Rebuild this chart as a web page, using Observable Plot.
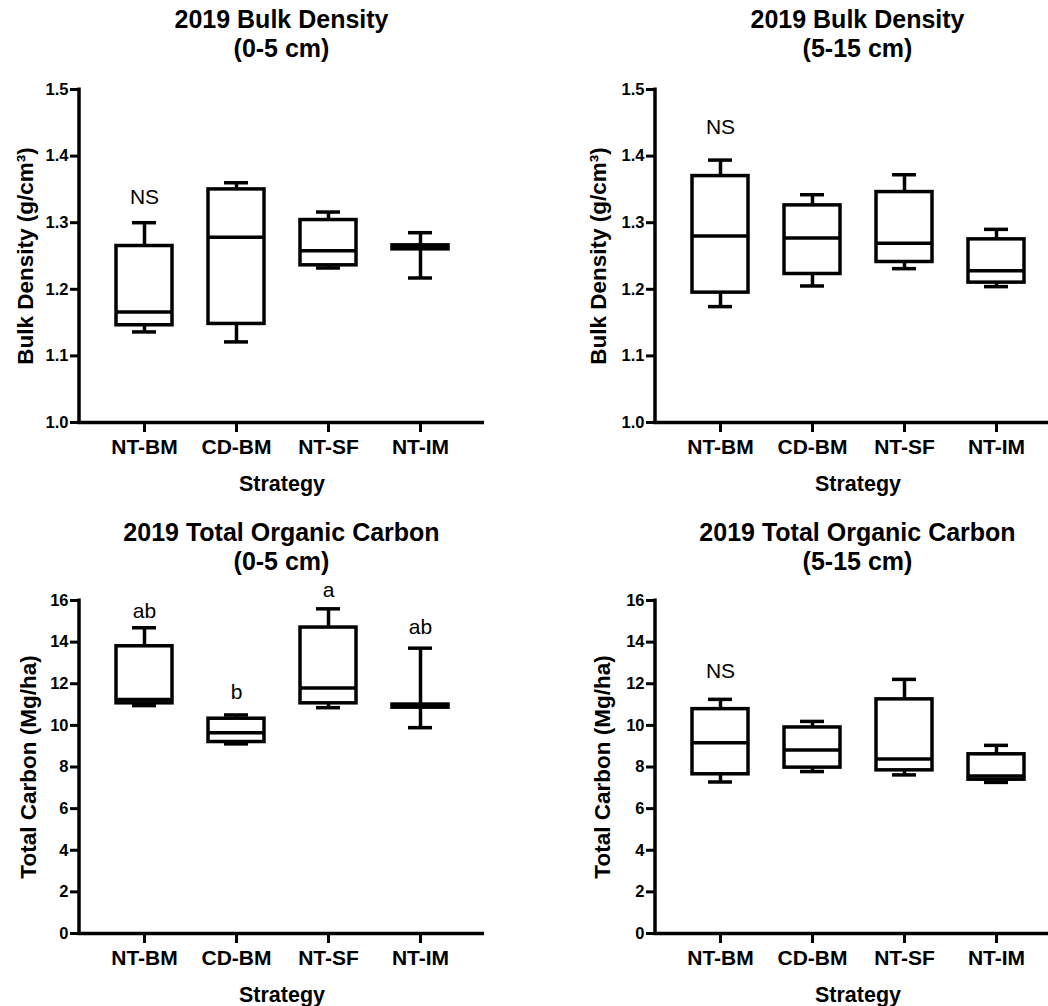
<!DOCTYPE html>
<html>
<head>
<meta charset="utf-8">
<script src="https://cdn.jsdelivr.net/npm/d3@7"></script>
<script src="https://cdn.jsdelivr.net/npm/@observablehq/plot@0.6"></script>
<style>
  html, body { margin: 0; padding: 0; background: #fff; overflow: hidden; }
  #page { position: relative; width: 1048px; height: 1006px; overflow: hidden; background: #fff; }
  .panel { position: absolute; width: 524px; height: 500px; }
  .title { position: absolute; left: 79px; width: 405px; text-align: center;
           font: bold 25px/29px "Liberation Sans", Arial, sans-serif; color: #000; white-space: nowrap; }
  .panel svg { display: block; }
</style>
</head>
<body>
<div id="page"></div>
<script>
// ---- data (five-number summaries: min, Q1, median, Q3, max) ----
const strategies = ["NT-BM", "CD-BM", "NT-SF", "NT-IM"];

const bulk0to5 = [
  [1.136, 1.146, 1.166, 1.265, 1.300],
  [1.121, 1.148, 1.278, 1.350, 1.360],
  [1.232, 1.236, 1.258, 1.304, 1.316],
  [1.217, 1.260, 1.263, 1.266, 1.285]
];
const bulk5to15 = [
  [1.174, 1.195, 1.280, 1.370, 1.394],
  [1.205, 1.223, 1.277, 1.326, 1.342],
  [1.231, 1.241, 1.269, 1.346, 1.372],
  [1.204, 1.210, 1.228, 1.275, 1.290]
];
const carbon0to5 = [
  [10.95, 11.06, 11.24, 13.80, 14.69],
  [9.11, 9.20, 9.65, 10.32, 10.50],
  [10.85, 11.06, 11.80, 14.70, 15.60],
  [9.89, 10.85, 10.93, 11.00, 13.71]
];
const carbon5to15 = [
  [7.28, 7.65, 9.17, 10.78, 11.25],
  [7.78, 7.97, 8.82, 9.90, 10.19],
  [7.62, 7.84, 8.38, 11.25, 12.21],
  [7.26, 7.39, 7.57, 8.61, 9.04]
];

// significance letters and the value at which each is written
const bulk0to5Letters = ["NS", "", "", ""];
const bulk0to5LetterY = [1.3385, null, null, null];
const bulk5to15Letters = ["NS", "", "", ""];
const bulk5to15LetterY = [1.4428, null, null, null];
const carbon0to5Letters = ["ab", "b", "a", "ab"];
const carbon0to5LetterY = [15.47, 11.60, 16.50, 14.69];
const carbon5to15Letters = ["NS", "", "", ""];
const carbon5to15LetterY = [12.60, null, null, null];

const bulkTicks = [1.0, 1.1, 1.2, 1.3, 1.4, 1.5];
const carbonTicks = [0, 2, 4, 6, 8, 10, 12, 14, 16];
const bulkDomain = [1.0, 1.5];
const carbonDomain = [0, 16];

// ---- drawing ----
const FONT = '"Liberation Sans", Arial, Helvetica, sans-serif';
const SW = 3.5;

function yAxisLine(domain) {
  return (index, scales, values, dimensions) => {
    const ns = "http://www.w3.org/2000/svg";
    const line = document.createElementNS(ns, "line");
    const x = dimensions.marginLeft;
    line.setAttribute("x1", x);
    line.setAttribute("x2", x);
    line.setAttribute("y1", scales.y(domain[1]) - 1.5);
    line.setAttribute("y2", scales.y(domain[0]) + SW / 2);
    line.setAttribute("stroke", "black");
    line.setAttribute("stroke-width", SW);
    return line;
  };
}

function makePanel(cfg) {
  const data = strategies.map((s, i) => ({
    strategy: s,
    min: cfg.summary[i][0], q1: cfg.summary[i][1], median: cfg.summary[i][2],
    q3: cfg.summary[i][3], max: cfg.summary[i][4]
  }));
  const ann = strategies
    .map((s, i) => ({strategy: s, text: cfg.letters[i], y: cfg.letterY[i]}))
    .filter(d => d.text);
  return Plot.plot({
    width: 524, height: 500,
    marginLeft: 79, marginRight: 40, marginTop: 89, marginBottom: 78,
    style: {fontFamily: FONT, fontWeight: "bold", color: "black", background: "white", overflow: "visible"},
    x: {type: "band", domain: strategies, paddingInner: 0.396, paddingOuter: 0.3825},
    y: {domain: cfg.domain},
    marks: [
      Plot.axisY({ticks: cfg.ticks, tickFormat: cfg.fmt, tickSize: 9, tickPadding: 2,
                  fontSize: 16.5, fontWeight: "bold", strokeWidth: 3, label: null}),
      Plot.axisX({tickSize: 10, tickPadding: 7, fontSize: 21, fontWeight: "bold",
                  strokeWidth: 3, label: null}),
      Plot.ruleY([cfg.domain[0]], {strokeWidth: SW, insetLeft: -SW / 2}),
      yAxisLine(cfg.domain),
      Plot.ruleX(data, {x: "strategy", y1: "q3", y2: "max", strokeWidth: SW}),
      Plot.ruleX(data, {x: "strategy", y1: "min", y2: "q1", strokeWidth: SW}),
      Plot.barY(data, {x: "strategy", y1: "q1", y2: "q3", fill: "white", stroke: "black", strokeWidth: SW}),
      Plot.tickY(data, {x: "strategy", y: "median", strokeWidth: SW}),
      Plot.tickY(data, {x: "strategy", y: "max", strokeWidth: SW, insetLeft: 16, insetRight: 16}),
      Plot.tickY(data, {x: "strategy", y: "min", strokeWidth: SW, insetLeft: 16, insetRight: 16}),
      Plot.text(ann, {x: "strategy", y: "y", text: "text", fontSize: 21, fontWeight: "normal", fill: "black"}),
      Plot.text([cfg.ylabel], {text: d => d, frameAnchor: "left", rotate: -90, dx: cfg.ylabelDx,
                               textAnchor: "middle", lineAnchor: "middle", fontSize: 22.5, fontWeight: "bold", fill: "black"}),
      Plot.text(["Strategy"], {text: d => d, frameAnchor: "bottom", dy: 53, lineAnchor: "top",
                               fontSize: 21.5, fontWeight: "bold", fill: "black"})
    ]
  });
}

const panels = [
  {left: 0, top: 0, titleTop: 5, title: "2019 Bulk Density", subtitle: "(0-5 cm)",
   summary: bulk0to5, letters: bulk0to5Letters, letterY: bulk0to5LetterY,
   domain: bulkDomain, ticks: bulkTicks, fmt: d3.format(".1f"),
   ylabel: "Bulk Density (g/cm³)", ylabelDx: -54},
  {left: 576, top: 0, titleTop: 5, title: "2019 Bulk Density", subtitle: "(5-15 cm)",
   summary: bulk5to15, letters: bulk5to15Letters, letterY: bulk5to15LetterY,
   domain: bulkDomain, ticks: bulkTicks, fmt: d3.format(".1f"),
   ylabel: "Bulk Density (g/cm³)", ylabelDx: -57},
  {left: 0, top: 511, titleTop: 7, title: "2019 Total Organic Carbon", subtitle: "(0-5 cm)",
   summary: carbon0to5, letters: carbon0to5Letters, letterY: carbon0to5LetterY,
   domain: carbonDomain, ticks: carbonTicks, fmt: d3.format("d"),
   ylabel: "Total Carbon (Mg/ha)", ylabelDx: -51},
  {left: 576, top: 511, titleTop: 7, title: "2019 Total Organic Carbon", subtitle: "(5-15 cm)",
   summary: carbon5to15, letters: carbon5to15Letters, letterY: carbon5to15LetterY,
   domain: carbonDomain, ticks: carbonTicks, fmt: d3.format("d"),
   ylabel: "Total Carbon (Mg/ha)", ylabelDx: -53}
];

const page = document.getElementById("page");
for (const cfg of panels) {
  const div = document.createElement("div");
  div.className = "panel";
  div.style.left = cfg.left + "px";
  div.style.top = cfg.top + "px";
  div.appendChild(makePanel(cfg));
  const t = document.createElement("div");
  t.className = "title";
  t.style.top = cfg.titleTop + "px";
  const l1 = document.createElement("div"); l1.textContent = cfg.title;
  const l2 = document.createElement("div"); l2.textContent = cfg.subtitle;
  t.appendChild(l1); t.appendChild(l2);
  div.appendChild(t);
  page.appendChild(div);
}
</script>
</body>
</html>
